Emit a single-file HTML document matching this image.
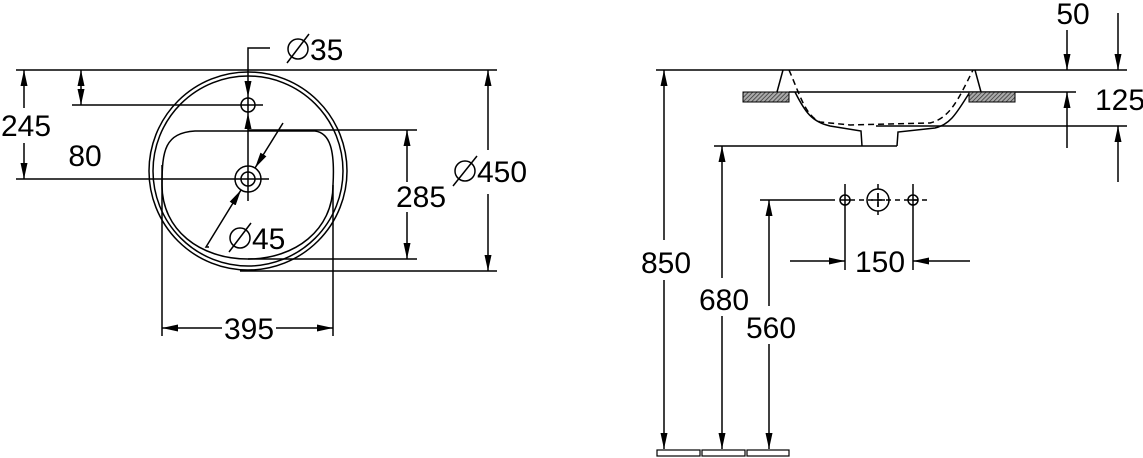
<!DOCTYPE html>
<html><head><meta charset="utf-8"><style>
html,body{margin:0;padding:0;background:#fff;}
svg{display:block;}
text{font-family:"Liberation Sans",sans-serif;font-size:30px;fill:#000;}
</style></head><body>
<svg width="1143" height="458" viewBox="0 0 1143 458" xmlns="http://www.w3.org/2000/svg">
<defs>
<marker id="b" viewBox="0 0 20 10" refX="20" refY="5" markerWidth="16" markerHeight="7" markerUnits="userSpaceOnUse" orient="auto-start-reverse" preserveAspectRatio="none"><path d="M0,0 L20,5 L0,10 z" fill="#000"/></marker>
<pattern id="h" width="3" height="3" patternUnits="userSpaceOnUse" patternTransform="rotate(45)"><rect width="3" height="3" fill="#aaa"/><line x1="0" y1="0" x2="0" y2="3" stroke="#333" stroke-width="1.5"/></pattern>
</defs>
<g stroke="#000" stroke-width="1.5" fill="none">
<circle cx="248" cy="171" r="99"/>
<circle cx="248" cy="171" r="95"/>
<path d="M162,185 C162,150 165,133 195,131 L315,131 C330,133 335,150 333,185 C333,230 295,259 248,259 C200,259 162,230 162,185"/>
<line x1="16" y1="70" x2="497" y2="70"/>
<line x1="240" y1="271" x2="497" y2="271"/>
<line x1="248" y1="130" x2="417" y2="130"/>
<line x1="248" y1="259" x2="417" y2="259"/>
<line x1="72" y1="105" x2="263" y2="105"/>
<line x1="16" y1="179" x2="269" y2="179"/>
<circle cx="248" cy="105" r="7"/>
<line x1="248" y1="97" x2="248" y2="113"/>
<circle cx="248" cy="179" r="13"/>
<circle cx="248" cy="179" r="7"/>
<line x1="248" y1="130" x2="248" y2="201"/>
<line x1="162" y1="165" x2="162" y2="336"/>
<line x1="333" y1="185" x2="333" y2="336"/>
<line x1="24" y1="70" x2="24" y2="108" marker-start="url(#b)"/>
<line x1="24" y1="143" x2="24" y2="179" marker-end="url(#b)"/>
<line x1="81" y1="70" x2="81" y2="105" marker-start="url(#b)" marker-end="url(#b)"/>
<polyline points="270,48 248,48 248,97" marker-end="url(#b)"/>
<line x1="248" y1="130" x2="248" y2="113" marker-end="url(#b)"/>
<line x1="488" y1="70" x2="488" y2="150" marker-start="url(#b)"/>
<line x1="488" y1="194" x2="488" y2="271" marker-end="url(#b)"/>
<line x1="407" y1="130" x2="407" y2="182" marker-start="url(#b)"/>
<line x1="407" y1="212" x2="407" y2="259" marker-end="url(#b)"/>
<line x1="162" y1="328" x2="222" y2="328" marker-start="url(#b)"/>
<line x1="276" y1="328" x2="333" y2="328" marker-end="url(#b)"/>
<line x1="283" y1="123" x2="255" y2="168" marker-end="url(#b)"/>
<polyline points="209,247 206,247 241,190" marker-end="url(#b)"/>
<circle cx="298" cy="49" r="10"/><line x1="287" y1="63" x2="309" y2="34"/>
<circle cx="240" cy="238" r="10"/><line x1="229" y1="252" x2="251" y2="223"/>
<circle cx="465" cy="171" r="10"/><line x1="453" y1="186" x2="477" y2="156"/>

<line x1="656" y1="70" x2="1127" y2="70"/>
<line x1="789" y1="92" x2="1076" y2="92"/>
<line x1="876" y1="126" x2="1127" y2="126"/>
<line x1="714" y1="146" x2="897" y2="146"/>
<path d="M783,70 L777,92 M975,70 L981,92"/>
<path d="M795,92 C805,112 812,122 830,126 L861,131 L862,146 M897,146 L898,132 L935,128 C952,124 958,110 970,92"/>
<path d="M789,70 C800,95 805,115 820,122 L850,125 L930,123 C950,118 958,100 973,70" stroke-dasharray="6,4"/>
<rect x="743" y="92" width="46" height="10" fill="url(#h)" stroke-width="1"/>
<rect x="969" y="92" width="46" height="10" fill="url(#h)" stroke-width="1"/>
<line x1="760" y1="200" x2="835" y2="200"/>
<line x1="850" y1="200" x2="930" y2="200" stroke-dasharray="5,4"/>
<circle cx="845" cy="200" r="5"/><line x1="840" y1="200" x2="850" y2="200"/>
<circle cx="878" cy="200" r="11"/><line x1="871" y1="200" x2="885" y2="200"/><line x1="878" y1="193" x2="878" y2="207"/>
<circle cx="913" cy="200" r="5"/><line x1="908" y1="200" x2="918" y2="200"/>
<line x1="845" y1="184" x2="845" y2="270"/>
<line x1="878" y1="184" x2="878" y2="215" stroke-dasharray="5,4"/>
<line x1="913" y1="184" x2="913" y2="270"/>
<line x1="790" y1="261" x2="845" y2="261" marker-end="url(#b)"/>
<line x1="970" y1="261" x2="913" y2="261" marker-end="url(#b)"/>
<line x1="664" y1="70" x2="664" y2="240" marker-start="url(#b)"/>
<line x1="664" y1="280" x2="664" y2="449" marker-end="url(#b)"/>
<line x1="722" y1="146" x2="722" y2="278" marker-start="url(#b)"/>
<line x1="722" y1="316" x2="722" y2="449" marker-end="url(#b)"/>
<line x1="769" y1="200" x2="769" y2="306" marker-start="url(#b)"/>
<line x1="769" y1="344" x2="769" y2="449" marker-end="url(#b)"/>
<rect x="657" y="450" width="43" height="6" stroke-width="1.2"/>
<rect x="702" y="450" width="43" height="6" stroke-width="1.2"/>
<rect x="747" y="450" width="42" height="6" stroke-width="1.2"/>
<line x1="1067" y1="30" x2="1067" y2="70" marker-end="url(#b)"/>
<line x1="1067" y1="148" x2="1067" y2="92" marker-end="url(#b)"/>
<line x1="1118" y1="13" x2="1118" y2="70" marker-end="url(#b)"/>
<line x1="1118" y1="182" x2="1118" y2="126" marker-end="url(#b)"/>
</g>
<g>
<text x="26" y="136" text-anchor="middle">245</text>
<text x="85" y="166" text-anchor="middle">80</text>
<text x="310" y="60">35</text>
<text x="252" y="249">45</text>
<text x="477" y="182">450</text>
<text x="421" y="207" text-anchor="middle">285</text>
<text x="249" y="339" text-anchor="middle">395</text>
<text x="1073" y="24" text-anchor="middle">50</text>
<text x="1095" y="110">125</text>
<text x="880" y="272" text-anchor="middle">150</text>
<text x="666" y="273" text-anchor="middle">850</text>
<text x="724" y="310" text-anchor="middle">680</text>
<text x="771" y="338" text-anchor="middle">560</text>
</g>
</svg>
</body></html>
